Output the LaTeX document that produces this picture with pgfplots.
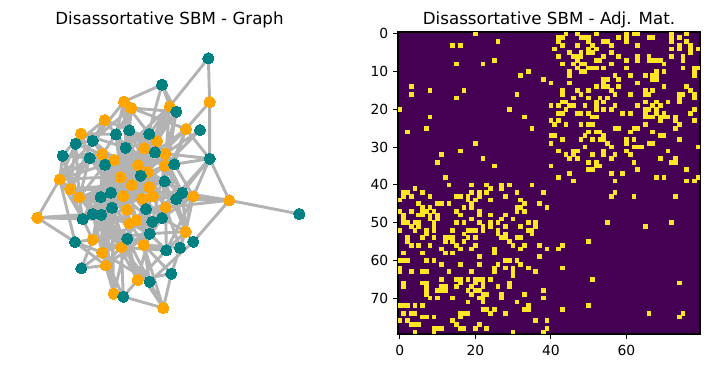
\documentclass[border=0pt]{standalone}
\usepackage{fontspec}
\setmainfont{DejaVu Sans}
\usepackage{pgfplots}
\usepackage{pgfplotstable}
\pgfplotsset{compat=1.18}
\definecolor{vlow}{HTML}{440154}
\definecolor{vhigh}{HTML}{FDE725}
\definecolor{nteal}{HTML}{008080}
\definecolor{norange}{HTML}{FFA500}
\definecolor{edgegray}{HTML}{B3B3B3}
\pgfplotstableread[row sep=\\]{
a b\\
0 20\\ 2 26\\ 3 14\\ 3 16\\ 7 25\\ 8 15\\ 8 22\\ 10 34\\ 11 32\\ 12 38\\ 15 17\\ 16 31\\ 20 29\\ 22 33\\ 25 35\\
39 46\\ 39 57\\ 39 76\\ 39 78\\ 42 57\\ 43 56\\ 43 62\\ 43 73\\ 50 55\\ 50 72\\ 51 65\\ 66 74\\ 74 75\\
0 44\\ 0 47\\ 0 52\\ 0 60\\ 0 62\\ 0 63\\ 0 72\\ 0 76\\
1 42\\ 1 43\\ 1 48\\ 1 49\\ 1 50\\ 1 58\\ 1 60\\ 1 66\\ 1 67\\ 1 72\\ 1 74\\
2 42\\ 2 50\\ 2 54\\ 2 55\\ 2 60\\ 2 72\\ 2 76\\
3 43\\ 3 47\\ 3 51\\ 3 56\\ 3 63\\ 3 74\\ 3 77\\
4 41\\ 4 50\\ 4 52\\ 4 72\\ 4 74\\ 4 77\\ 4 79\\
5 45\\ 5 48\\ 5 50\\ 5 51\\ 5 56\\ 5 77\\
6 42\\ 6 46\\ 6 47\\ 6 48\\ 6 54\\ 6 58\\ 6 63\\ 6 66\\ 6 72\\ 6 75\\
7 47\\ 7 52\\ 7 53\\ 7 60\\ 7 63\\ 7 66\\ 7 67\\ 7 68\\ 7 69\\ 7 75\\
8 43\\ 8 46\\ 8 48\\ 8 49\\ 8 56\\ 8 70\\
9 47\\ 9 50\\ 9 51\\ 9 52\\ 9 54\\ 9 60\\ 9 75\\ 9 78\\ 9 79\\
10 45\\ 10 48\\ 10 49\\ 10 68\\ 10 70\\ 10 78\\
11 45\\ 11 57\\ 11 61\\ 11 65\\ 11 67\\ 11 68\\ 11 78\\
12 54\\ 12 55\\ 12 58\\ 12 67\\ 12 68\\
13 40\\ 13 45\\ 13 54\\ 13 63\\
14 52\\ 14 54\\ 14 55\\ 14 58\\ 14 70\\ 14 76\\
15 43\\ 15 47\\ 15 50\\ 15 56\\ 15 65\\ 15 67\\ 15 77\\
16 43\\ 16 48\\ 16 57\\ 16 61\\ 16 65\\ 16 66\\ 16 74\\ 16 75\\ 16 78\\
17 46\\ 17 50\\ 17 53\\ 17 55\\ 17 74\\ 17 78\\
18 43\\ 18 44\\ 18 52\\ 18 54\\ 18 65\\ 18 68\\ 18 71\\ 18 74\\
19 40\\ 19 42\\ 19 45\\ 19 46\\ 19 49\\ 19 52\\ 19 57\\ 19 63\\ 19 67\\ 19 69\\
20 44\\ 20 52\\ 20 54\\ 20 56\\ 20 65\\ 20 66\\ 20 68\\ 20 78\\
21 42\\ 21 43\\ 21 47\\ 21 48\\ 21 50\\ 21 59\\ 21 61\\ 21 65\\ 21 68\\ 21 70\\ 21 77\\
22 51\\ 22 52\\ 22 65\\ 22 66\\ 22 67\\ 22 69\\ 22 70\\ 22 71\\ 22 73\\
23 40\\ 23 42\\ 23 69\\ 23 73\\ 23 78\\
24 41\\ 24 44\\ 24 48\\ 24 50\\ 24 51\\ 24 65\\ 24 74\\
25 57\\ 25 58\\ 25 62\\ 25 63\\ 25 73\\
26 50\\ 26 52\\ 26 53\\ 26 61\\ 26 67\\
27 40\\ 27 41\\ 27 49\\ 27 54\\ 27 69\\ 27 70\\
28 43\\ 28 48\\ 28 51\\ 28 53\\ 28 54\\ 28 60\\ 28 62\\ 28 74\\
29 40\\ 29 55\\ 29 60\\ 29 66\\ 29 67\\
30 49\\ 30 56\\ 30 62\\ 30 63\\ 30 64\\ 30 79\\
31 42\\ 31 46\\ 31 47\\ 31 54\\ 31 60\\ 31 71\\
32 44\\ 32 46\\ 32 51\\ 32 54\\ 32 57\\ 32 61\\
33 45\\ 33 47\\ 33 56\\ 33 69\\ 33 73\\
34 50\\ 34 52\\ 34 62\\ 34 72\\ 34 73\\
35 40\\ 35 52\\ 35 53\\
36 50\\ 36 51\\ 36 63\\ 36 76\\
37 45\\ 37 56\\ 37 59\\
38 42\\ 38 68\\ 38 70\\ 38 79\\
}\adjedges
\begin{document}
\begin{tikzpicture}
\path[use as bounding box] (0,0) rectangle (510.48bp,264.96bp);
\begin{axis}[
  at={(14.4bp,24.48bp)}, anchor=south west, scale only axis,
  width=215.28bp, height=217.44bp,
  xmin=0, xmax=897, ymin=-24, ymax=882, y dir=reverse,
  axis line style={draw=none}, ticks=none, clip=false,
  unbounded coords=jump,
  title={Disassortative SBM - Graph},
  title style={font=\fontsize{12bp}{14bp}\selectfont, at={(0.5,1)}, anchor=south, yshift=-3bp, inner sep=0pt, outer sep=0pt},
]
\addplot[edgegray, line width=2.1bp, line join=round, no marks] coordinates {
(569,186)(565,55)(449,199)(426,134)(312,185)(288,283)(254,240)(328,271)(312,185)(388,282)(449,199)
(nan,nan)
(426,134)(469,215)(334,204)(498,267)(569,356)(569,186)(498,267)(405,337)(449,199)(317,323)(334,204)(288,283)(183,281)(128,347)(119,418)(165,606)(52,533)(119,418)(209,354)(183,281)(317,323)(254,240)(167,311)(151,447)
(nan,nan)
(569,356)(436,341)(469,215)(373,325)(426,134)
(nan,nan)
(569,356)(628,481)(838,522)
(nan,nan)
(628,481)(520,469)(469,477)
(nan,nan)
(628,481)(437,502)(628,481)(520,605)(497,575)(487,458)(520,469)(439,631)(437,502)(480,623)(497,575)(426,534)
(nan,nan)
(569,356)(520,469)(463,373)(569,356)(435,377)(540,270)(436,341)(463,373)
(nan,nan)
(430,804)(310,770)(353,720)(454,701)(430,804)(389,725)(371,615)(430,804)(322,596)
(nan,nan)
(454,701)(480,623)(371,615)(454,701)(353,720)(439,631)(304,622)(389,725)(247,638)(310,770)(281,761)(257,676)(322,596)
(nan,nan)
(184,685)(218,599)(165,606)(247,638)(184,685)(257,676)(165,606)
(nan,nan)
(52,533)(188,537)(52,533)(218,522)(52,533)(244,524)(119,418)
(nan,nan)
(288,283)(354,375)(218,522)(383,396)(209,354)(399,469)(255,374)(321,509)(328,271)(367,476)(242,471)(411,303)(273,458)(436,341)(276,503)(373,325)(188,537)(335,435)(218,302)(388,441)(317,323)(310,468)(388,282)(302,412)(405,337)(283,360)(463,373)(247,343)(362,407)(178,472)(434,424)(151,447)(487,458)(349,541)(469,477)(328,550)(426,534)(302,412)(397,545)(218,599)(389,581)(304,622)(322,596)(371,615)(378,507)(247,638)(242,471)(257,676)(273,458)(281,761)(276,503)(353,720)(244,524)(430,804)
(nan,nan)
(218,302)(335,435)(244,524)(383,396)(188,537)(310,468)(209,354)(321,509)(255,374)(349,541)(288,283)(437,502)(328,271)(435,377)(276,503)(304,622)(218,522)(371,615)(273,458)(218,599)(242,471)(328,550)(317,323)(367,476)(362,407)(119,418)
(nan,nan)
(218,522)(178,472)(209,354)(151,447)(188,537)(119,418)(255,374)(178,472)(276,503)(151,447)
(nan,nan)
(247,638)(276,503)(257,676)(244,524)(304,622)(242,471)(281,761)(218,522)(304,622)(273,458)(371,615)(362,407)(371,615)(389,581)(353,720)(322,596)(389,725)(304,622)(310,770)(247,638)
(nan,nan)
(463,373)(520,469)(434,424)(497,575)(469,477)(437,502)(397,545)(435,377)(426,534)(367,476)(389,581)(437,502)(378,507)(399,469)(469,477)(388,441)(434,424)(411,303)(463,373)(373,325)(405,337)(354,375)(388,282)(435,377)(362,407)(436,341)
(nan,nan)
(317,323)(354,375)(276,503)(388,441)(209,354)(335,435)(288,283)(383,396)(273,458)(354,375)(218,522)(310,468)(255,374)(367,476)(218,302)(302,412)(188,537)(283,360)(244,524)(247,343)(276,503)(335,435)(242,471)(302,412)(218,522)(283,360)(273,458)(247,343)(242,471)(321,509)(188,537)(349,541)(244,524)(310,468)(276,503)(328,550)(218,522)(367,476)(378,507)(335,435)(397,545)(310,468)(362,407)(335,435)(426,534)(388,441)(389,581)(354,375)(378,507)(302,412)(434,424)(354,375)(469,477)(383,396)(487,458)(435,377)(487,458)(411,303)(388,282)(436,341)(328,271)(411,303)(317,323)(435,377)(405,337)(383,396)(434,424)(436,341)(469,477)(399,469)(362,407)(373,325)(328,271)(302,412)(288,283)(247,343)(218,302)(283,360)(209,354)(247,343)(167,311)(283,360)(255,374)(302,412)(273,458)(178,472)(244,524)(151,447)(218,302)(119,418)(167,311)(178,472)(188,537)(218,599)(244,524)(247,638)(218,522)(257,676)(276,503)(218,599)(273,458)(304,622)(244,524)(328,550)(322,596)(349,541)(397,545)(371,615)(426,534)(497,575)(389,581)(328,550)(378,507)(371,615)(439,631)(349,541)(322,596)(257,676)(389,581)(247,638)(322,596)(281,761)(276,503)
(nan,nan)
(469,215)(411,303)(449,199)(388,282)(373,325)(469,215)(354,375)(449,199)(405,337)(498,267)(463,373)(498,267)(434,424)(469,215)(435,377)(449,199)(362,407)(498,267)
(nan,nan)
(254,240)(218,302)(312,185)(218,302)(334,204)(328,271)(334,204)(317,323)(312,185)(317,323)(254,240)(288,283)
(nan,nan)
(183,281)(218,302)(167,311)(183,281)(209,354)(128,347)(247,343)(128,347)(283,360)
(nan,nan)
(167,311)(119,418)(218,302)(151,447)(128,347)(178,472)
(nan,nan)
(569,356)(487,458)(569,356)(469,477)(569,356)(437,502)(628,481)(487,458)(520,469)(497,575)(520,469)(480,623)(520,469)(426,534)(497,575)(439,631)(497,575)(454,701)
(nan,nan)
(628,481)(469,477)
(nan,nan)
(520,605)(389,725)
(nan,nan)
(52,533)(165,606)
};
\addplot[only marks, mark=*, mark size=4.05bp, color=norange, mark options={draw=norange, fill=norange, line width=0pt}] coordinates {
(312,185)(334,204)(449,199)(569,186)(254,240)(498,267)(183,281)(411,303)(373,325)(436,341)
(247,343)(283,360)(354,375)(435,377)(383,396)(302,412)(119,418)(335,435)(388,441)(151,447)
(178,472)(310,468)(367,476)(399,469)(520,469)(628,481)(437,502)(321,509)(52,533)(349,541)
(328,550)(497,575)(218,599)(304,622)(371,615)(247,638)(257,676)(353,720)(281,761)(430,804)
};
\addplot[only marks, mark=*, mark size=4.05bp, color=nteal, mark options={draw=nteal, fill=nteal, line width=0pt}] coordinates {
(565,55)(426,134)(469,215)(540,270)(288,283)(328,271)(388,282)(167,311)(218,302)(317,323)
(405,337)(128,347)(209,354)(569,356)(255,374)(463,373)(362,407)(434,424)(487,458)(469,477)
(273,458)(242,471)(276,503)(378,507)(188,537)(218,522)(244,524)(426,534)(397,545)(389,581)
(322,596)(165,606)(520,605)(480,623)(439,631)(184,685)(454,701)(389,725)(310,770)(838,522)
};
\end{axis}
\begin{axis}[
  at={(286.56bp,24.48bp)}, anchor=south west, scale only axis,
  width=217.44bp, height=217.44bp,
  xmin=-0.5, xmax=79.5, ymin=-0.5, ymax=79.5, y dir=reverse,
  axis background/.style={fill=vlow},
  xtick={0,20,40,60}, ytick={0,10,20,30,40,50,60,70},
  tick align=outside, xtick pos=bottom, ytick pos=left,
  major tick length=3.5bp, tick style={black, line width=0.8bp}, axis line style={line width=0.8bp},
  /pgf/number format/assume math mode=true,
  tick label style={font=\fontsize{10bp}{12bp}\selectfont},
  xticklabel style={yshift=-1.2bp},
  title={Disassortative SBM - Adj. Mat.},
  title style={font=\fontsize{12bp}{14bp}\selectfont, at={(0.5,1)}, anchor=south, yshift=-3bp, inner sep=0pt, outer sep=0pt},
]
\addplot[only marks, mark=square*, mark size=1.33pt, color=vhigh, mark options={draw=vhigh, fill=vhigh, line width=0pt}] table[x=a,y=b] {\adjedges};
\addplot[only marks, mark=square*, mark size=1.33pt, color=vhigh, mark options={draw=vhigh, fill=vhigh, line width=0pt}] table[x=b,y=a] {\adjedges};
\end{axis}
\end{tikzpicture}
\end{document}
